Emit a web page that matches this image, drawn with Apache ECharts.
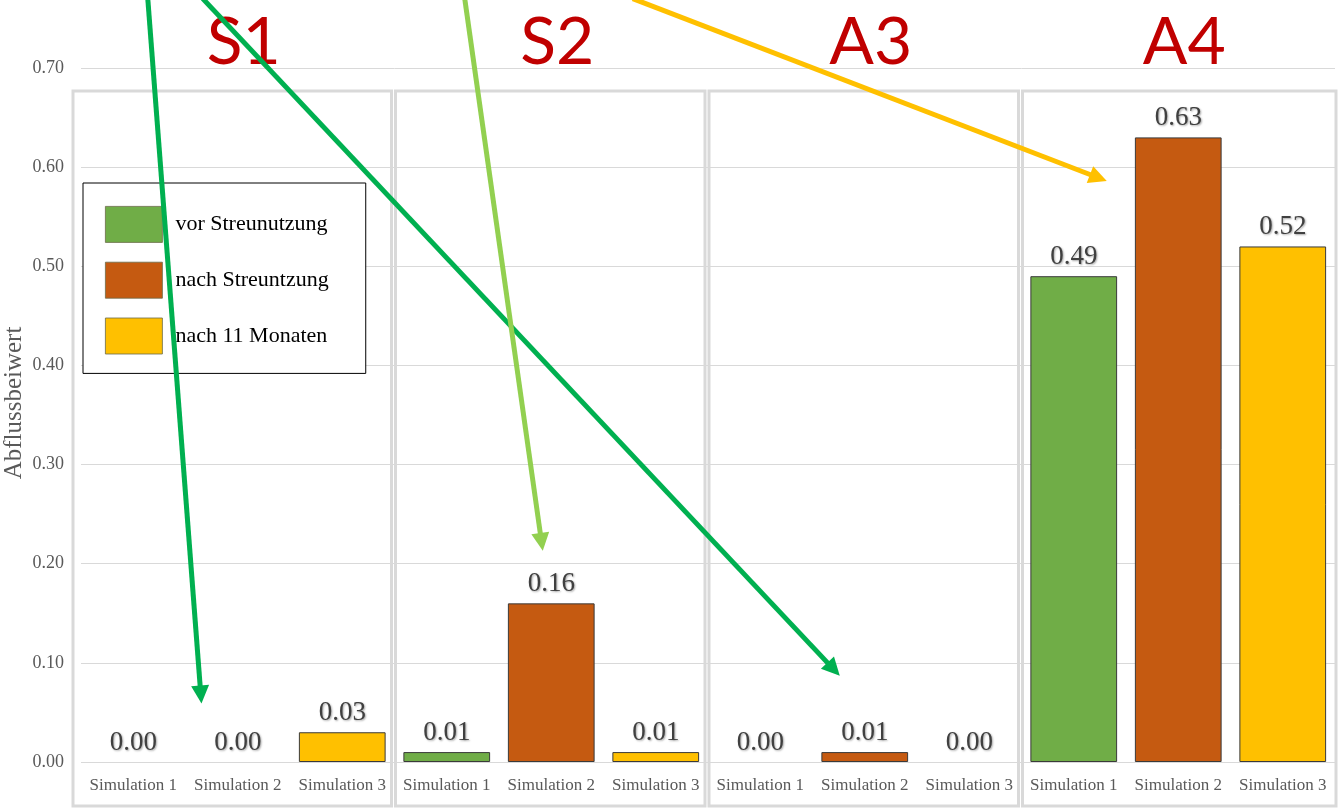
<!DOCTYPE html>
<html>
<head>
<meta charset="utf-8">
<script src="https://cdn.jsdelivr.net/npm/echarts@6/dist/echarts.min.js"></script>
<style>
  html, body { margin: 0; padding: 0; background: #fff; }
  #main { width: 1338px; height: 811px; }
</style>
</head>
<body>
<div id="main"></div>
<script>
// Daten
const panels = ['S1', 'S2', 'A3', 'A4']
const simulations = ['Simulation 1', 'Simulation 2', 'Simulation 3']
const seriesNames = ['vor Streunutzung', 'nach Streuntzung', 'nach 11 Monaten']
// ein Wert je Panel (S1, S2, A3, A4)
const vorStreunutzung = [0.00, 0.01, 0.00, 0.49]
const nachStreunutzung = [0.00, 0.16, 0.01, 0.63]
const nach11Monaten = [0.03, 0.01, 0.00, 0.52]
const yMin = 0
const yMax = 0.7
const yStep = 0.1

// Pfeile (Kategorie-Index, Wert): Start -> Spitze
const arrows = [
    { from: [0.139, 0.77], to: [0.653, 0.059], color: '#00B050' },
    { from: [0.665, 0.77], to: [6.761, 0.087], color: '#00B050' },
    { from: [3.172, 0.77], to: [3.919, 0.213], color: '#92D050' },
    { from: [4.78, 0.77], to: [9.316, 0.586], color: '#FFC000' }
]

const colors = ['#70AD47', '#C55A11', '#FFC000']
const serif = '"Liberation Serif", "DejaVu Serif", serif'

// Kategorien: Panel + Simulation (eindeutig)
let categories = []
panels.forEach(p => simulations.forEach(s => categories.push(p + '|' + s)))

const seriesValues = [vorStreunutzung, nachStreunutzung, nach11Monaten]

let series = seriesNames.map((name, k) => {
    let data = []
    panels.forEach((p, i) => {
        simulations.forEach((s, j) => {
            if (j !== k) {
                data.push(null)
            } else {
                let v = seriesValues[k][i]
                data.push(v === 0 ? { value: v, itemStyle: { borderWidth: 0 } } : v)
            }
        })
    })
    return {
        name: name,
        type: 'bar',
        barGap: '-100%',
        barCategoryGap: '17%',
        data: data,
        itemStyle: { color: colors[k], borderColor: '#3a3a3a', borderWidth: 1 },
        label: {
            show: true,
            position: 'top',
            distance: 6,
            formatter: p => p.value == null ? '' : Number(p.value).toFixed(2),
            fontFamily: serif,
            fontSize: 27,
            color: '#404040',
            textShadowColor: 'rgba(0,0,0,0.35)',
            textShadowBlur: 2,
            textShadowOffsetX: 1,
            textShadowOffsetY: 1
        },
        z: 3
    }
})

const chart = echarts.init(document.getElementById('main'))

chart.setOption({
    animation: false,
    backgroundColor: '#fff',
    grid: { left: 81, right: 3, top: 68, bottom: 49, containLabel: false, outerBoundsMode: 'none' },
    legend: {
        orient: 'vertical',
        left: 83,
        top: 183,
        padding: [23, 37, 19, 22],
        backgroundColor: '#fff',
        borderColor: '#000',
        borderWidth: 1,
        itemWidth: 57,
        itemHeight: 36,
        itemGap: 19,
        icon: 'rect',
        data: seriesNames,
        itemStyle: { borderWidth: 0.8, borderColor: '#6b6b4a' },
        textStyle: { fontFamily: serif, fontSize: 22, color: '#000', padding: [0, 0, 0, 8] },
        z: 5
    },
    xAxis: {
        type: 'category',
        data: categories,
        axisLine: { show: false },
        axisTick: { show: false },
        axisLabel: {
            interval: 0,
            margin: 15,
            fontFamily: serif,
            fontSize: 17,
            color: '#595959',
            formatter: v => v.split('|')[1]
        }
    },
    yAxis: {
        type: 'value',
        min: yMin,
        max: yMax,
        interval: yStep,
        axisLine: { show: false },
        axisTick: { show: false },
        axisLabel: {
            margin: 17,
            fontFamily: serif,
            fontSize: 18,
            color: '#595959',
            formatter: v => v.toFixed(2)
        },
        splitLine: { lineStyle: { color: '#d9d9d9', width: 1 } }
    },
    series: series
})

// Pixel aus Kategorie-Index (auch gebrochen) und Wert
function toPx(idx, val) {
    let a = chart.convertToPixel({ gridIndex: 0 }, [0, val])
    let b = chart.convertToPixel({ gridIndex: 0 }, [1, val])
    return [a[0] + idx * (b[0] - a[0]), a[1]]
}

let graphics = []
let yTop = toPx(0, yMax)[1]
let yBottom = toPx(0, yMin)[1]

// Achsentitel
graphics.push({
    type: 'text',
    x: 14,
    y: (yTop + yBottom) / 2 - 12,
    rotation: Math.PI / 2,
    style: {
        text: 'Abflussbeiwert',
        fill: '#595959',
        fontSize: 25,
        fontFamily: serif,
        align: 'center',
        verticalAlign: 'middle'
    },
    z: 10
})

// Rahmen und Titel je Panel
panels.forEach((p, i) => {
    let left = toPx(i * 3 - 0.5, 0)[0] + (i === 0 ? -8 : 1)
    let right = toPx(i * 3 + 2.5, 0)[0] + (i === panels.length - 1 ? 1 : -3)
    graphics.push({
        type: 'rect',
        shape: { x: left, y: yTop + 23, width: right - left, height: yBottom + 44 - yTop - 23 },
        style: { fill: 'none', stroke: '#d9d9d9', lineWidth: 3 },
        z: 1
    })
    graphics.push({
        type: 'text',
        style: {
            text: p,
            x: toPx(i * 3 + 1, 0)[0] + 6,
            y: yTop - 25,
            fill: '#C00000',
            fontSize: 66,
            fontFamily: 'Lato, sans-serif',
            align: 'center',
            verticalAlign: 'middle'
        },
        z: 50
    })
})

// Pfeile
arrows.forEach(a => {
    let s = toPx(a.from[0], a.from[1])
    let t = toPx(a.to[0], a.to[1])
    let dx = t[0] - s[0], dy = t[1] - s[1]
    let len = Math.sqrt(dx * dx + dy * dy)
    let ux = dx / len, uy = dy / len
    let headLen = 18, headHalf = 9
    let bx = t[0] - ux * headLen, by = t[1] - uy * headLen
    graphics.push({
        type: 'line',
        shape: { x1: s[0], y1: s[1], x2: bx + ux * 2, y2: by + uy * 2 },
        style: { stroke: a.color, lineWidth: 5 },
        z: 100
    })
    graphics.push({
        type: 'polygon',
        shape: { points: [[t[0], t[1]], [bx - uy * headHalf, by + ux * headHalf], [bx + uy * headHalf, by - ux * headHalf]] },
        style: { fill: a.color },
        z: 100
    })
})

chart.setOption({ graphic: graphics })
</script>
</body>
</html>
